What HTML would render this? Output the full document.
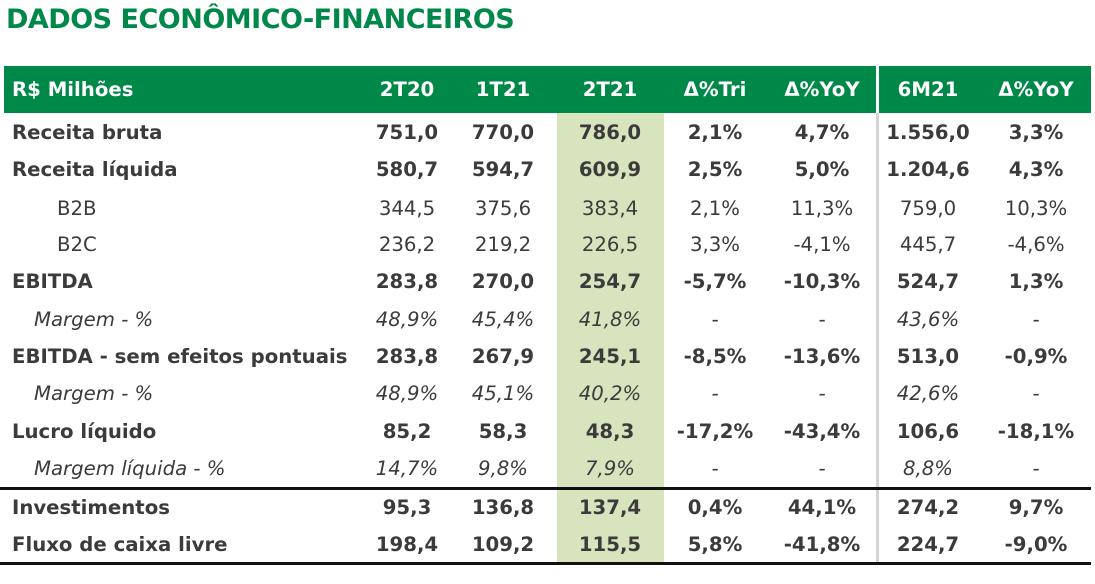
<!DOCTYPE html>
<html><head><meta charset="utf-8"><style>
body{margin:0;width:1095px;height:584px;background:#fff;position:relative;overflow:hidden;font-family:"DejaVu Sans","Liberation Sans",sans-serif;color:#3b3b3b}
.t{position:absolute;left:6px;top:2px;font-size:27px;line-height:36px;font-weight:bold;color:#00884a;letter-spacing:-0.5px;font-family:"DejaVu Sans",sans-serif}
.hd{position:absolute;left:4px;top:66px;width:1087px;height:47px;background:#008849}
.g{position:absolute;left:557px;top:113px;width:107px;height:450px;background:#d8e4bd}
.vs{position:absolute;left:876px;top:66px;width:3px;height:497px;background:#d3d3d3}
.vs2{position:absolute;left:876px;top:66px;width:3px;height:47px;background:#fff}
.hl{position:absolute;left:0;width:1091px;height:3px;background:#111}
.r{position:absolute;left:0;width:1095px;height:37px;line-height:37px;font-size:19.7px}
.r span{position:absolute;top:0;text-align:center;width:110px;white-space:nowrap}
.r .l{text-align:left;width:auto}
.b{font-weight:bold}.i{font-style:italic}
.h{color:#fff;font-weight:bold}
.c1{left:352px}.c2{left:448px}.c3{left:555px}.c4{left:660px}.c5{left:767px}.c6{left:873px}.c7{left:981px}
</style></head><body>
<div class="t">DADOS ECONÔMICO-FINANCEIROS</div>
<div class="hd"></div><div class="g"></div><div class="vs"></div><div class="vs2"></div>
<div class="hl" style="top:487px"></div><div class="hl" style="top:562px"></div>
<div class="r h" style="top:71px"><span class="l" style="left:12px">R$ Milhões</span><span class="c1">2T20</span><span class="c2">1T21</span><span class="c3">2T21</span><span class="c4">Δ%Tri</span><span class="c5">Δ%YoY</span><span class="c6">6M21</span><span class="c7">Δ%YoY</span></div>
<div class="r b" style="top:114px"><span class="l" style="left:12px">Receita bruta</span><span class="c1">751,0</span><span class="c2">770,0</span><span class="c3">786,0</span><span class="c4">2,1%</span><span class="c5">4,7%</span><span class="c6">1.556,0</span><span class="c7">3,3%</span></div>
<div class="r b" style="top:151px"><span class="l" style="left:12px">Receita líquida</span><span class="c1">580,7</span><span class="c2">594,7</span><span class="c3">609,9</span><span class="c4">2,5%</span><span class="c5">5,0%</span><span class="c6">1.204,6</span><span class="c7">4,3%</span></div>
<div class="r" style="top:190px"><span class="l" style="left:57px">B2B</span><span class="c1">344,5</span><span class="c2">375,6</span><span class="c3">383,4</span><span class="c4">2,1%</span><span class="c5">11,3%</span><span class="c6">759,0</span><span class="c7">10,3%</span></div>
<div class="r" style="top:226px"><span class="l" style="left:57px">B2C</span><span class="c1">236,2</span><span class="c2">219,2</span><span class="c3">226,5</span><span class="c4">3,3%</span><span class="c5">-4,1%</span><span class="c6">445,7</span><span class="c7">-4,6%</span></div>
<div class="r b" style="top:263px"><span class="l" style="left:12px">EBITDA</span><span class="c1">283,8</span><span class="c2">270,0</span><span class="c3">254,7</span><span class="c4">-5,7%</span><span class="c5">-10,3%</span><span class="c6">524,7</span><span class="c7">1,3%</span></div>
<div class="r i" style="top:301px"><span class="l" style="left:34px">Margem - %</span><span class="c1">48,9%</span><span class="c2">45,4%</span><span class="c3">41,8%</span><span class="c4">-</span><span class="c5">-</span><span class="c6">43,6%</span><span class="c7">-</span></div>
<div class="r b" style="top:338px"><span class="l" style="left:12px">EBITDA - sem efeitos pontuais</span><span class="c1">283,8</span><span class="c2">267,9</span><span class="c3">245,1</span><span class="c4">-8,5%</span><span class="c5">-13,6%</span><span class="c6">513,0</span><span class="c7">-0,9%</span></div>
<div class="r i" style="top:375px"><span class="l" style="left:34px">Margem - %</span><span class="c1">48,9%</span><span class="c2">45,1%</span><span class="c3">40,2%</span><span class="c4">-</span><span class="c5">-</span><span class="c6">42,6%</span><span class="c7">-</span></div>
<div class="r b" style="top:413px"><span class="l" style="left:12px">Lucro líquido</span><span class="c1">85,2</span><span class="c2">58,3</span><span class="c3">48,3</span><span class="c4">-17,2%</span><span class="c5">-43,4%</span><span class="c6">106,6</span><span class="c7">-18,1%</span></div>
<div class="r i" style="top:450px"><span class="l" style="left:34px">Margem líquida - %</span><span class="c1">14,7%</span><span class="c2">9,8%</span><span class="c3">7,9%</span><span class="c4">-</span><span class="c5">-</span><span class="c6">8,8%</span><span class="c7">-</span></div>
<div class="r b" style="top:489px"><span class="l" style="left:12px">Investimentos</span><span class="c1">95,3</span><span class="c2">136,8</span><span class="c3">137,4</span><span class="c4">0,4%</span><span class="c5">44,1%</span><span class="c6">274,2</span><span class="c7">9,7%</span></div>
<div class="r b" style="top:526px"><span class="l" style="left:12px">Fluxo de caixa livre</span><span class="c1">198,4</span><span class="c2">109,2</span><span class="c3">115,5</span><span class="c4">5,8%</span><span class="c5">-41,8%</span><span class="c6">224,7</span><span class="c7">-9,0%</span></div>
</body></html>
